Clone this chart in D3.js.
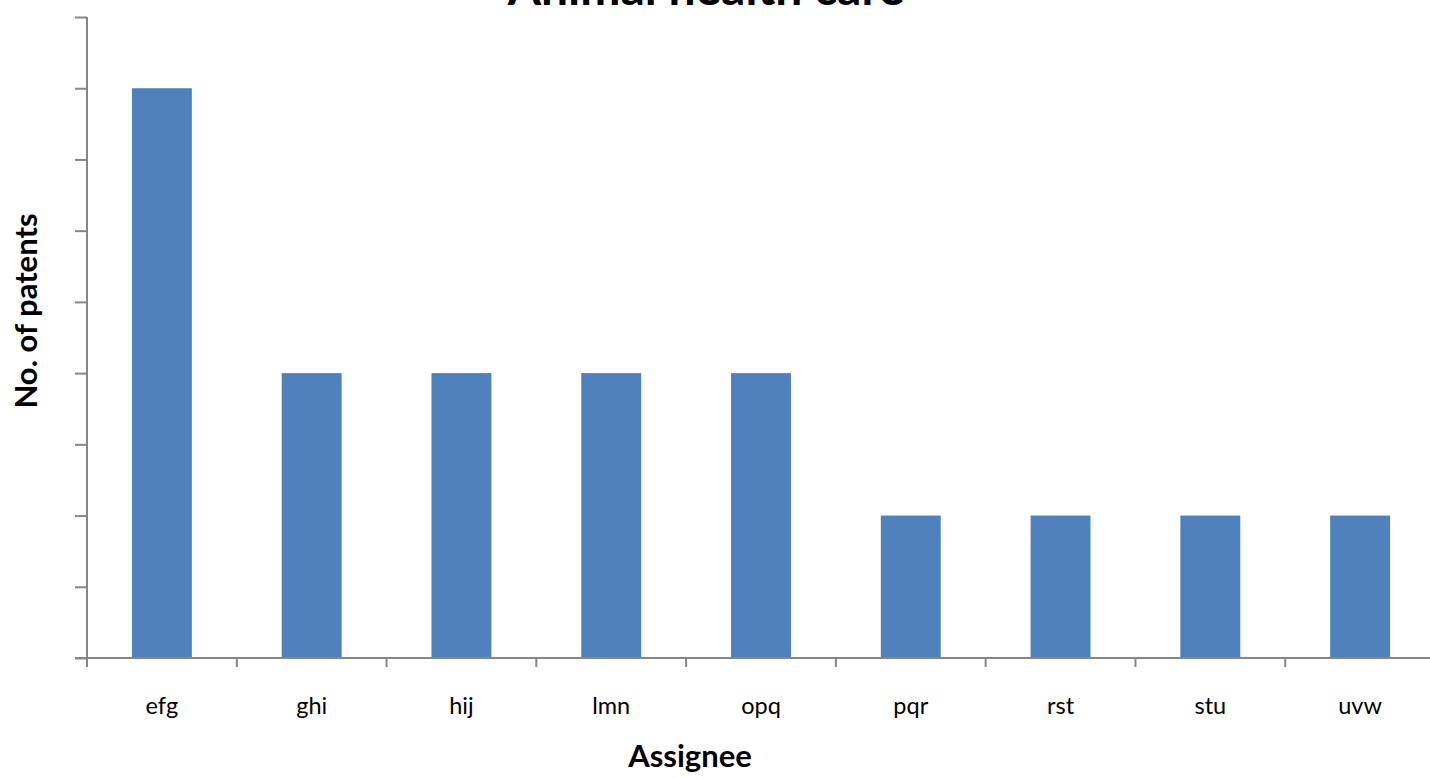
<!DOCTYPE html>
<html><head><meta charset="utf-8">
<script src="https://cdn.jsdelivr.net/npm/d3@7"></script>
<style>html,body{margin:0;padding:0;background:#fff;overflow:hidden}</style>
</head><body>
<svg id="c" width="1430" height="778"></svg>
<script>
const categories = ["efg","ghi","hij","lmn","opq","pqr","rst","stu","uvw"];
const values = [8,4,4,4,4,2,2,2,2];
const yTicks = [0,1,2,3,4,5,6,7,8,9];
const title = "Animal health care";
const xTitle = "Assignee";
const yTitle = "No. of patents";

const svg = d3.select("#c");
const m = {left:87, top:17, right:-5, bottom:120};
const W = 1430, H = 778;
const x = d3.scaleBand().domain(categories).range([m.left, W - m.right]).paddingInner(0.6).paddingOuter(0.3);
const xb = d3.scaleBand().domain(categories).range([m.left, W - m.right]);
const y = d3.scaleLinear().domain([0,9]).range([658, m.top]);
const axisColor = "#868686";
const font = "Lato, 'Open Sans', sans-serif";

svg.selectAll("rect.bar").data(values).enter().append("rect")
  .attr("class","bar")
  .attr("x",(d,i)=>x(categories[i]))
  .attr("width",x.bandwidth())
  .attr("y",d=>y(d))
  .attr("height",d=>y(0)-y(d))
  .attr("fill","#4f81bd");

// y axis
const ya = svg.append("g").attr("transform",`translate(${m.left},0)`)
  .call(d3.axisLeft(y).tickValues(yTicks).tickSize(12).tickFormat(""));
ya.select(".domain").attr("stroke",axisColor).attr("stroke-width",2).attr("d",`M0,${y(9)}V${y(0)}`);
ya.selectAll(".tick line").attr("stroke",axisColor).attr("stroke-width",2);

// x axis
const boundaries = categories.map(c=>xb(c)).concat([xb(categories[categories.length-1])+xb.bandwidth()]);
const xa = svg.append("g").attr("transform",`translate(0,${y(0)})`);
xa.append("line").attr("x1",m.left-12).attr("x2",W).attr("y1",0).attr("y2",0)
  .attr("stroke",axisColor).attr("stroke-width",2);
xa.selectAll("line.t").data(boundaries).enter().append("line")
  .attr("x1",d=>d).attr("x2",d=>d).attr("y1",0).attr("y2",9)
  .attr("stroke",axisColor).attr("stroke-width",2);
xa.selectAll("text").data(categories).enter().append("text")
  .attr("x",d=>xb(d)+xb.bandwidth()/2).attr("y",56)
  .attr("text-anchor","middle").attr("font-family",font).attr("font-size",23.5)
  .attr("fill","#000").text(d=>d);

// titles
svg.append("text").attr("x",706).attr("y",5).attr("text-anchor","middle")
  .attr("font-family",font).attr("font-weight","bold").attr("font-size",48).text(title);
svg.append("text").attr("x",690).attr("y",767).attr("text-anchor","middle")
  .attr("font-family",font).attr("font-weight","bold").attr("font-size",31).text(xTitle);
svg.append("text").attr("transform","translate(37,311) rotate(-90)").attr("text-anchor","middle")
  .attr("font-family",font).attr("font-weight","bold").attr("font-size",31).text(yTitle);
</script>
</body></html>
